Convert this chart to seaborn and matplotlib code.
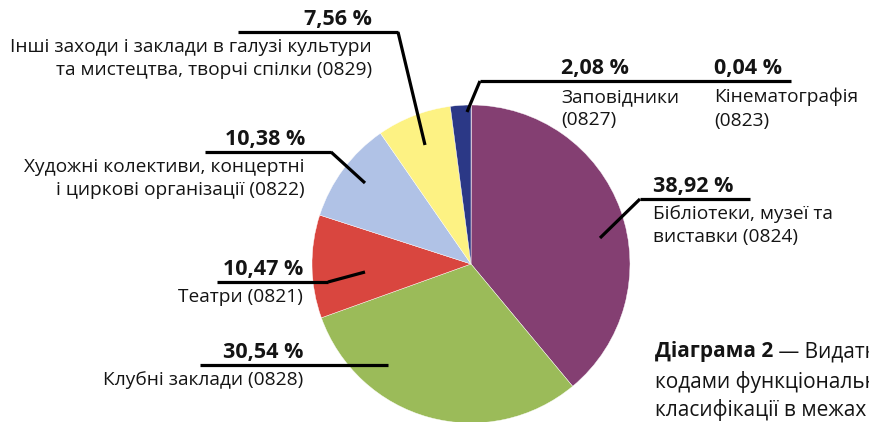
import matplotlib
matplotlib.use("Agg")
import matplotlib.pyplot as plt
import seaborn as sns

# Shares of spending by functional classification code, clockwise from 12 o'clock
codes = ["0823", "0824", "0828", "0821", "0822", "0829", "0827"]
shares = [0.04, 38.92, 30.54, 10.47, 10.38, 7.56, 2.08]
share_labels = ["0,04 %", "38,92 %", "30,54 %", "10,47 %", "10,38 %", "7,56 %", "2,08 %"]
names = [
    "Кінематографія\n(0823)",
    "Бібліотеки, музеї та\nвиставки (0824)",
    "Клубні заклади (0828)",
    "Театри (0821)",
    "Художні колективи, концертні\nі циркові організації (0822)",
    "Інші заходи і заклади в галузі культури\nта мистецтва, творчі спілки (0829)",
    "Заповідники\n(0827)",
]
slice_colors = ["#8e9bd0", "#843f72", "#9bbb59", "#d9463f", "#b0c2e6", "#fdf283", "#2b3886"]

caption_bold = "Діаграма 2"
caption_rest = " — Видатки"
caption_lines = ["кодами функціональної", "класифікації в межах"]

sns.set_theme(style="white")
plt.rcParams["font.family"] = ["Open Sans", "DejaVu Sans"]

W, H = 869, 422
fig = plt.figure(figsize=(W / 100, H / 100), dpi=100)
ax = fig.add_axes([0, 0, 1, 1])


def Y(y):
    # page coordinates measured from the top edge
    return H - y


ax.pie(shares, colors=slice_colors, startangle=90, counterclock=False,
       center=(471, Y(264)), radius=159, frame=True,
       wedgeprops=dict(linewidth=0.3, edgecolor="white"))
ax.set_xlim(0, W)
ax.set_ylim(0, H)
ax.set_aspect("equal")
ax.axis("off")

ink = "#141414"
pct_size = 15.5
txt_size = 13.8
lw = 2.3

# (line start x, line end x, line y, leader tip x, leader tip y, text anchor x, align)
callouts = {
    "0829": (238, 398, 32, 425, 145, 372, "right"),
    "0822": (205, 331, 152, 365, 183, 305, "right"),
    "0821": (217, 328, 282, 365, 272, 303, "right"),
    "0828": (200, 388, 365, None, None, 303, "right"),
    "0824": (640, 750, 199, 600, 238, 653, "left"),
}

for code, (x0, x1, ly, tx, ty, ax_x, ha) in callouts.items():
    i = codes.index(code)
    ax.plot([x0, x1], [Y(ly), Y(ly)], color="black", lw=lw, solid_capstyle="butt")
    if tx is not None:
        jx = x1 if ha == "right" else x0
        ax.plot([jx, tx], [Y(ly), Y(ty)], color="black", lw=lw, solid_capstyle="butt")
    ax.text(ax_x, Y(ly - 2), share_labels[i], ha=ha, va="bottom",
            fontsize=pct_size, fontweight="bold", color=ink)
    ax.text(ax_x, Y(ly + 6), names[i], ha=ha, va="top", fontsize=txt_size,
            color=ink, linespacing=1.38)

# shared callout line for the two small slices at the top
ax.plot([480, 791], [Y(81), Y(81)], color="black", lw=lw, solid_capstyle="butt")
ax.plot([480, 467], [Y(81), Y(112)], color="black", lw=lw, solid_capstyle="butt")
for code, x in (("0827", 561), ("0823", 714)):
    i = codes.index(code)
    ax.text(x, Y(79), share_labels[i], ha="left", va="bottom",
            fontsize=pct_size, fontweight="bold", color=ink)
    ax.text(x, Y(88), names[i], ha="left", va="top", fontsize=txt_size,
            color=ink, linespacing=1.38)

# caption, running off the right edge
cap_size = 15
cap = ax.text(655, Y(352), caption_bold, ha="left", va="center",
              fontsize=cap_size, fontweight="bold", color=ink)
fig.canvas.draw()
bb = cap.get_window_extent()
ax.text(bb.x1, bb.y0 + bb.height / 2, caption_rest, ha="left", va="center",
        fontsize=cap_size, color=ink, transform=None)
for k, line in enumerate(caption_lines):
    ax.text(655, Y(382 + 28 * k), line, ha="left", va="center",
            fontsize=cap_size, color=ink)

fig.savefig("out.png", dpi=100)
